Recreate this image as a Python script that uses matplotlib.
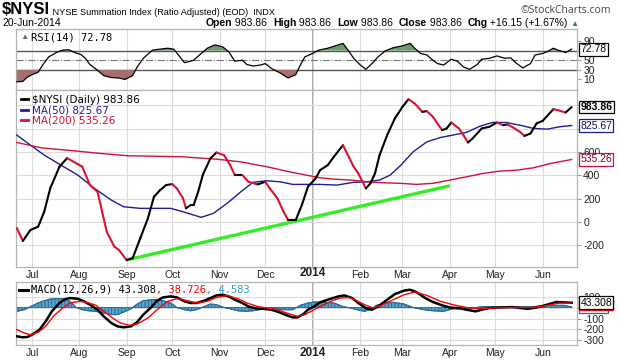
import numpy as np
import pandas as pd
import matplotlib
matplotlib.use("Agg")
import matplotlib.pyplot as plt
import matplotlib.dates as mdates
from matplotlib.collections import LineCollection
from matplotlib.lines import Line2D
from matplotlib.text import Annotation

plt.rcParams['font.family'] = ['Liberation Sans', 'DejaVu Sans']
plt.rcParams['hatch.linewidth'] = 0.6

START = pd.Timestamp('2013-06-21')   # first bar; all *_day lists are day offsets from it

# $NYSI daily close
nysi_day = [0, 4, 9, 14, 18, 22, 28, 33, 40, 43, 48, 53, 56, 59, 64, 67, 72, 76, 81, 86,
            90, 94, 98, 102, 105, 109, 111, 114, 116, 119, 122, 127, 131, 136, 140, 143, 148, 152, 158, 163,
            166, 171, 175, 178, 183, 187, 191, 196, 199, 204, 208, 214, 221, 224, 229, 232, 235, 238, 243, 248,
            253, 257, 261, 266, 269, 273, 279, 282, 285, 290, 293, 296, 299, 305, 310, 315, 319, 322, 326, 330,
            333, 337, 341, 345, 352, 355, 360, 364]
nysi_val = [-51, -162, -68, -40, 88, 290, 473, 547, 496, 473, 316, 259, 88, -83, -211, -239, -325, -310, -140, 31,
            216, 273, 316, 325, 288, 205, 117, 145, 145, 259, 402, 544, 595, 572, 487, 402, 402, 344, 322, 344,
            288, 202, 88, 17, 17, 145, 302, 373, 444, 487, 558, 658, 473, 418, 288, 331, 416, 573, 744, 886,
            986, 1051, 1015, 943, 949, 900, 786, 801, 852, 801, 744, 681, 715, 801, 815, 852, 829, 835, 806, 772,
            737, 758, 844, 866, 966, 957, 937, 984]

# moving averages
ma50_day = [0, 9, 18, 29, 40, 51, 62, 70, 81, 90, 101, 109, 121, 129, 138, 147, 155, 164, 173, 181,
            190, 199, 210, 221, 230, 238, 245, 252, 260, 269, 278, 286, 295, 304, 312, 321, 330, 339, 348, 356, 364]
ma50_val = [744, 658, 573, 487, 402, 288, 188, 131, 117, 117, 117, 88, 40, 74, 160, 259, 340, 353, 344, 322,
            322, 322, 316, 340, 344, 359, 402, 487, 601, 686, 724, 744, 767, 821, 852, 852, 829, 801, 795, 815, 826]
ma200_day = [0, 16, 33, 55, 73, 88, 109, 131, 147, 164, 181, 199, 208, 219, 230, 240, 252, 262, 273, 284,
             295, 306, 317, 328, 339, 350, 364]
ma200_val = [681, 635, 615, 587, 567, 564, 558, 538, 515, 473, 424, 379, 367, 359, 344, 336, 331, 322, 331, 359,
             387, 416, 436, 444, 464, 501, 535]

# hand-drawn trendline
trend_day = [72, 284]
trend_val = [-325, 310]

# RSI(14)
rsi_day = [0, 4, 7, 10, 14, 17, 21, 26, 30, 34, 38, 42, 45, 48, 53, 57, 62, 67, 71, 76,
           79, 83, 89, 94, 99, 103, 106, 110, 113, 116, 121, 125, 130, 135, 139, 143, 148, 151, 155, 160,
           163, 167, 173, 178, 183, 186, 189, 194, 198, 204, 209, 214, 218, 221, 225, 229, 233, 237, 242, 247,
           253, 258, 261, 265, 269, 273, 276, 280, 285, 289, 293, 297, 302, 305, 310, 315, 320, 324, 328, 332,
           337, 340, 345, 348, 352, 355, 360, 364]
rsi_val = [5, 6, 15, 20, 25, 40, 57, 66, 71, 72, 66, 62, 54, 41, 29, 18, 14, 13, 10, 18,
           36, 54, 71, 73, 75, 73, 61, 45, 47, 50, 64, 75, 82, 78, 68, 48, 50, 41, 38, 40,
           43, 33, 23, 13, 20, 40, 57, 64, 71, 75, 80, 85, 68, 54, 41, 31, 43, 57, 70, 76,
           80, 85, 75, 64, 61, 50, 43, 40, 52, 48, 36, 31, 41, 52, 54, 59, 54, 55, 43, 34,
           43, 61, 64, 68, 75, 71, 66, 73]

# MACD(12,26,9)
macd_day = [0, 4, 7, 10, 15, 19, 23, 28, 32, 35, 40, 44, 48, 53, 57, 62, 66, 70, 75, 79,
            83, 88, 92, 96, 101, 105, 110, 114, 118, 123, 127, 131, 135, 139, 143, 148, 152, 158, 162, 167,
            172, 176, 181, 184, 188, 191, 195, 199, 206, 211, 215, 220, 224, 229, 233, 237, 243, 248, 254, 258,
            262, 268, 273, 279, 284, 290, 295, 301, 305, 310, 317, 325, 335, 341, 348, 354, 364]
macd_val = [-262, -271, -268, -247, -201, -126, -35, 41, 77, 86, 80, 56, 26, -20, -80, -141, -171, -180, -171, -132,
            -65, 0, 62, 92, 101, 92, 56, 41, 41, 62, 86, 110, 116, 101, 71, 41, 9, -12, -12, -20,
            -42, -65, -90, -90, -60, -20, 9, 47, 80, 101, 110, 86, 41, -5, -20, 9, 71, 122, 153, 162,
            141, 86, 50, 20, 0, -5, -20, -35, -20, -5, 0, 4, -12, 0, 26, 50, 43]
sig_day = [0, 5, 9, 14, 19, 24, 30, 35, 41, 46, 52, 57, 63, 68, 74, 79, 86, 92, 99, 105,
           112, 118, 125, 131, 138, 145, 151, 158, 164, 171, 177, 184, 189, 193, 199, 206, 212, 218, 223, 229,
           234, 240, 247, 254, 261, 269, 278, 286, 295, 304, 312, 321, 330, 339, 348, 356, 364]
sig_val = [-201, -232, -247, -226, -171, -80, -5, 41, 56, 47, 20, -35, -96, -141, -162, -150, -96, -20, 56, 80,
           62, 41, 56, 92, 110, 80, 41, 9, -5, -20, -50, -80, -65, -35, 9, 56, 86, 92, 62, 20,
           -5, 26, 71, 116, 141, 110, 56, 26, 0, -12, -5, 0, 0, 0, 20, 41, 39]
hist_day = [0, 5, 9, 14, 18, 22, 27, 31, 35, 39, 43, 47, 52, 57, 62, 66, 70, 75, 79, 83,
            88, 92, 96, 101, 105, 110, 114, 118, 123, 127, 131, 136, 140, 145, 150, 155, 162, 169, 175, 181,
            186, 191, 195, 201, 208, 214, 219, 223, 228, 232, 236, 242, 247, 254, 260, 267, 273, 280, 286, 293,
            299, 306, 317, 328, 339, 350, 359, 364]
hist_val = [-35, -20, 9, 41, 62, 77, 80, 80, 56, 0, -20, -30, -35, -50, -65, -65, -42, -12, 32, 62,
            71, 71, 62, 41, 0, -20, -30, -20, 9, 32, 26, 0, -12, -30, -35, -30, -12, -12, -20, -20,
            20, 41, 50, 50, 41, 9, -5, -20, -35, -20, 20, 41, 47, 32, 0, -20, -30, -35, -12, -12,
            -5, 9, 9, 9, 9, 20, 20, 5]

month_ticks = pd.date_range('2013-07-01', '2014-06-01', freq='MS')
month_labels = ['Jul', 'Aug', 'Sep', 'Oct', 'Nov', 'Dec', '2014', 'Feb', 'Mar', 'Apr', 'May', 'Jun']


def to_dates(days):
    return START + pd.to_timedelta(days, unit='D')


GRID = '#dcdcdc'
SPINE = '#b4b4b4'
UP, DOWN = '#000000', '#dd1133'
MA50_C, MA200_C = '#1c1c96', '#d0103a'
MONO = ['DejaVu Sans Mono', 'DejaVu Sans']

fig = plt.figure(figsize=(6.2, 3.6), dpi=100)
left, width = 16 / 620, 561 / 620
ax_rsi = fig.add_axes([left, 1 - 90 / 360, width, 61 / 360])
ax_main = fig.add_axes([left, 1 - 267 / 360, width, 177 / 360])
ax_macd = fig.add_axes([left, 1 - 345 / 360, width, 63 / 360])

xlim = (START - pd.Timedelta(days=0.5), START + pd.Timedelta(days=367.5))

for ax in (ax_rsi, ax_main, ax_macd):
    ax.set_xlim(xlim)
    ax.set_xticks(month_ticks)
    ax.grid(True, color=GRID, lw=0.8, zorder=0)
    ax.set_axisbelow(True)
    ax.axvline(pd.Timestamp('2014-01-01'), color='#a8a8a8', lw=1.4, zorder=0.5)
    for s in ax.spines.values():
        s.set_color(SPINE)
        s.set_linewidth(0.9)
    ax.yaxis.tick_right()
    ax.tick_params(axis='y', labelsize=7.5, length=3, color='#999999', pad=1.5, labelcolor='#222222')
    ax.tick_params(axis='x', length=0, labelbottom=False)


def value_box(ax, y, text, edge, color='black', weight='normal', z=6):
    ax.text(1.006, y, text, transform=ax.get_yaxis_transform(), ha='left', va='center',
            fontsize=7.5, color=color, fontweight=weight, zorder=z, clip_on=False,
            bbox=dict(boxstyle='square,pad=0.12', fc='white', ec=edge, lw=0.9))


# ---- RSI panel
rd = to_dates(rsi_day)
rv = np.array(rsi_val, dtype=float)
ax_rsi.plot(rd, rv, color='black', lw=0.9, zorder=4)
ax_rsi.fill_between(rd, rv, 70, where=rv > 70, interpolate=True, color='#6e9a6e', lw=0, zorder=3)
ax_rsi.fill_between(rd, rv, 30, where=rv < 30, interpolate=True, color='#a66f6f', lw=0, zorder=3)
ax_rsi.axhline(70, color='#555555', lw=1, zorder=2)
ax_rsi.axhline(30, color='#555555', lw=1, zorder=2)
ax_rsi.axhline(50, color='#777777', lw=0.8, ls='-.', zorder=2)
ax_rsi.set_ylim(-12, 115)
# the 70 label sits under the value box in the original
ax_rsi.set_yticks([10, 30, 50, 70, 90], ['10', '30', '50', '', '90'])
ax_rsi.grid(False, axis='y')
ax_rsi.text(0.007, 0.855, '\u25b2', transform=ax_rsi.transAxes, fontsize=6, color='#4e7e4e', va='center')
ax_rsi.text(0.027, 0.855, 'RSI(14) 72.78', transform=ax_rsi.transAxes, fontsize=7.5, va='center',
            family=MONO)
value_box(ax_rsi, 72.78, '72.78', 'black')

# ---- main panel
nd = mdates.date2num(to_dates(nysi_day))
nv = np.array(nysi_val, dtype=float)
pts = np.column_stack([nd, nv])
segs = np.stack([pts[:-1], pts[1:]], axis=1)
seg_colors = [UP if b >= a else DOWN for a, b in zip(nv[:-1], nv[1:])]
ax_main.add_collection(LineCollection(segs, colors=seg_colors, linewidths=1.5,
                                      capstyle='round', joinstyle='round', zorder=4))
ax_main.plot(to_dates(ma50_day), ma50_val, color=MA50_C, lw=1, zorder=3)
ax_main.plot(to_dates(ma200_day), ma200_val, color=MA200_C, lw=1, zorder=3)
ax_main.plot(to_dates(trend_day), trend_val, color='#33ee22', lw=2.4, zorder=3.5, solid_capstyle='butt')
ax_main.set_ylim(-385, 1130)
ax_main.set_yticks([-200, 0, 200, 400, 600, 800, 1000], ['-200', '0', '200', '400', '600', '800', ''])
handles = [Line2D([], [], color='black', lw=2), Line2D([], [], color=MA50_C, lw=2),
           Line2D([], [], color=MA200_C, lw=2)]
ax_main.legend(handles, [r'\$NYSI (Daily) 983.86', 'MA(50) 825.67', 'MA(200) 535.26'],
               loc='upper left', frameon=False, labelcolor='linecolor', handlelength=0.7,
               handletextpad=0.35, borderaxespad=0.25, borderpad=0.2, labelspacing=0.05,
               prop={'family': ['DejaVu Sans'], 'size': 7.5})
value_box(ax_main, 535.26, '535.26', MA200_C, color='#7a0820', z=6)
value_box(ax_main, 825.67, '825.67', MA50_C, color='#10105e', z=7)
value_box(ax_main, 983.86, '983.86', 'black', weight='bold', z=8)

# ---- MACD panel
hd = to_dates(hist_day)
ax_macd.fill_between(hd, hist_val, 0, facecolor='#5aa3cf', edgecolor='#1e6592', hatch='|||||',
                     lw=0.6, zorder=2)
ax_macd.plot(hd, hist_val, color='#2c6d96', lw=0.8, zorder=2.5)
ax_macd.plot(to_dates(sig_day), sig_val, color='#ff0000', lw=1, zorder=4)
ax_macd.plot(to_dates(macd_day), macd_val, color='black', lw=1.8, zorder=3.5)
ax_macd.set_ylim(-341, 232)
ax_macd.set_yticks([100, 0, -100, -200, -300], ['100', '', '-100', '-200', '-300'])
ax_macd.set_xticks(month_ticks, month_labels)
ax_macd.tick_params(axis='x', labeltop=True, labelbottom=True, labelsize=7.5, pad=1.8,
                    labelcolor='#222222')
for tick, lab in zip(ax_macd.xaxis.get_major_ticks(), month_labels):
    if lab == '2014':
        for t in (tick.label1, tick.label2):
            t.set_fontweight('bold')
            t.set_fontsize(8.5)
ax_macd.plot([0.006, 0.021], [0.875, 0.875], transform=ax_macd.transAxes, color='black', lw=2.2)
t = ax_macd.text(0.027, 0.875, 'MACD(12,26,9) 43.308', transform=ax_macd.transAxes, fontsize=7.5,
                 va='center', family=MONO)
for s, c in [(', 38.726', '#ff0000'), (', 4.583', '#3399cc')]:
    t = ax_macd.annotate(s, xy=(1, 0), xycoords=t, va='bottom', ha='left', fontsize=7.5,
                         color=c, family=MONO)
value_box(ax_macd, 4.583, '4.583', '#2c6d96', color='#2c6d96', z=6)
value_box(ax_macd, 38.726, '38.726', '#ff0000', z=7)
value_box(ax_macd, 43.308, '43.308', 'black', z=8)

# ---- header
def chain(x, y, parts):
    t = fig.text(x, y, parts[0][0], va='bottom', ha='left', **parts[0][1])
    for s, kw in parts[1:]:
        ann = Annotation(s, xy=(1, 0), xycoords=t, va='bottom', ha='left', **kw)
        fig.add_artist(ann)
        t = ann
    return t


chain(2 / 620, 1 - 17 / 360, [(r'\$NYSI', dict(fontsize=12, fontweight='bold')),
                              (' NYSE Summation Index (Ratio Adjusted) (EOD)  INDX', dict(fontsize=6.6))])
fig.text(611 / 620, 1 - 16 / 360, '\u00a9StockCharts.com', ha='right', va='bottom', fontsize=7.5,
         color='#444444', family=['Open Sans', 'DejaVu Sans'])
fig.text(2 / 620, 1 - 28 / 360, '20-Jun-2014', ha='left', va='bottom', fontsize=7.5)
B = dict(fontsize=7.5, fontweight='bold')
N = dict(fontsize=7.5)
chain(206 / 620, 1 - 28 / 360, [('Open', B), (' 983.86  ', N), ('High', B), (' 983.86  ', N),
                                ('Low', B), (' 983.86  ', N), ('Close', B), (' 983.86  ', N),
                                ('Chg', B), (' +16.15 (+1.67%) ', N),
                                ('\u25b2', dict(fontsize=6, color='#2e8b2e'))])

fig.savefig('out.png', dpi=100)
